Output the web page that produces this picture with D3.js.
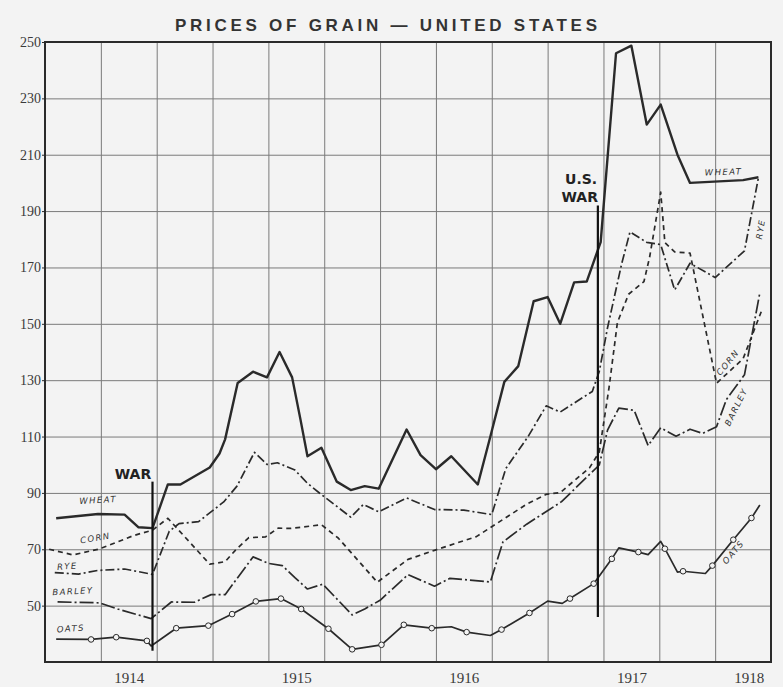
<!DOCTYPE html>
<html>
<head>
<meta charset="utf-8">
<script src="https://cdn.jsdelivr.net/npm/d3@7"></script>
<style>
  body { margin: 0; background: #f3f3f3; }
  svg { display: block; }
</style>
</head>
<body>
<svg id="chart"></svg>
<script>
// months counted from 1 Jan 1914, prices in cents per bushel
const wheat = [[0.8,81],[3.8,82.5],[5.7,82.3],[6.7,77.8],[7.7,77.5],[8.8,93],[9.7,93],[11.8,99],[12.5,104],[12.9,109],
  [13.8,129],[14.9,133],[15.9,131],[16.8,140],[17.7,131],[18.3,116],[18.8,103],[19.8,106],[20.9,94],[21.9,91],
  [22.9,92.4],[23.9,91.5],[25.9,112.5],[26.9,103.4],[28,98.4],[29.1,103],[31,93],[31.9,110],[32.9,129.4],[33.9,135],
  [35,158],[36,159.5],[36.9,150],[37.9,164.7],[38.8,165],[39.8,179],[40.9,246],[42,248.7],[43.1,220.7],[44.1,227.8],
  [45.3,210],[46.2,200],[50,201],[51.1,202]];

const corn = [[0.3,70],[2,68],[3.8,70],[5.1,72.4],[6.3,74.8],[7.7,76.8],[8.8,81],[11.8,64.7],[12.9,65.6],[13.7,70],
  [14.6,74.1],[15.8,74.4],[16.7,77.5],[17.6,77.4],[19.8,78.7],[21,74],[23.8,58.3],[26,66.4],[28,69.8],[30.9,74.5],
  [34.5,86],[35.9,89.5],[36.9,90.1],[39,98.9],[39.7,104.5],[40.4,127.4],[41,150.5],[41.8,160.5],[42.9,165],[43.3,173.5],
  [44.1,196.7],[44.4,178.8],[45.1,175.5],[46.2,175.1],[48.1,128.9],[50,137.6],[51.3,154.3]];

const rye = [[0.7,61.7],[2.4,61.2],[3.8,62.5],[5.7,63],[7.7,61.1],[8.9,76.4],[9.6,79.1],[11,79.8],[12.8,86.8],[13.75,92.4],
  [15,104.4],[15.9,100.1],[16.65,100.7],[17.9,98.1],[18.8,93.4],[19.7,89.8],[21.9,81.4],[22.8,85.9],[23.9,83.3],[25.9,88.2],
  [27.9,84.1],[30,83.9],[32,82.3],[33,98.6],[34.6,110],[35.9,120.9],[36.9,118.7],[39.2,126],[39.7,133.1],[40.3,148.8],
  [41.3,171.2],[41.9,182.6],[43.1,178.9],[44.1,178.1],[45.1,162],[46.2,171.5],[48,166.4],[50.1,175.9],[51.1,201.9]];

const barley = [[0.9,51.3],[3.9,51],[5.2,48.8],[7.6,45.4],[9.05,51.3],[10.7,51.2],[11.9,53.9],[12.9,53.9],[14.9,67.3],[16,65],
  [17,64.2],[17.9,59.9],[18.8,55.9],[19.9,57.6],[22,46.7],[22.9,48.8],[24,51.9],[26,61],[27.9,56.9],[29,59.7],
  [31.9,58.4],[32.8,72.6],[34.5,78.9],[37,86.9],[39.7,99.9],[40.3,112.4],[41.1,120.1],[42.2,119.3],[43.2,106.8],[44.1,113.1],
  [45.2,110.1],[46.2,112.6],[47.1,111.1],[48.1,113.5],[48.8,123.1],[50.1,131.9],[51.2,161]];

const oats = [[0.8,38.1],[3.3,38],[5.1,38.8],[7.3,37.5],[7.6,35.7],[9.4,42],[11.7,42.9],[13.4,47],[15.1,51.5],[16.9,52.5],
  [18.35,48.8],[20.3,41.8],[22,34.5],[24.1,36.1],[25.7,43.2],[27.7,42],[29.1,42.5],[30.2,40.6],[31.9,39.4],[32.7,41.5],
  [34.7,47.4],[36,51.6],[37.05,50.8],[37.6,52.5],[39.3,57.8],[40.6,66.6],[41.1,70.5],[42.5,69],[43.2,68.1],[44.1,72.8],
  [44.4,70.2],[45.3,61.9],[45.7,62.2],[47.3,61.4],[47.8,64.2],[49.3,73.4],[50.6,81.1],[51.2,85.7]];
// which oats points carry a ring
const oatsRings = [1,2,3,5,6,7,8,9,10,11,12,13,14,15,17,19,20,23,24,25,27,30,32,34,35,36];

const yTicks = [50,70,90,110,130,150,170,190,210,230,250];
const yearTicks = [6,18,30,42,50.4];
const yearLabels = ["1914","1915","1916","1917","1918"];

// outbreak of war (Aug 1914) and U.S. entry (Apr 1917)
const warMonths = [7.7, 39.6];
const warTop = [94, 192];
const warBottom = [34, 46];

const width = 783, height = 687;
const svg = d3.select("#chart").attr("width", width).attr("height", height);

const x = d3.scaleLinear().domain([0, 52]).range([45, 771]);
const y = d3.scaleLinear().domain([30, 250]).range([662, 42]);

const ink = "#2a2a2a";

// grid
svg.append("g")
  .attr("transform", `translate(0,${y(30)})`)
  .call(d3.axisBottom(x).tickValues(d3.range(4, 52, 4)).tickSize(-(y(30) - y(250))).tickFormat(""))
  .call(g => g.select(".domain").remove())
  .call(g => g.selectAll("line").attr("stroke", "#7a7a7a").attr("stroke-width", 1));

svg.append("g")
  .attr("transform", `translate(${x(0)},0)`)
  .call(d3.axisLeft(y).tickValues(d3.range(50, 250, 20)).tickSize(-(x(52) - x(0))).tickFormat(""))
  .call(g => g.select(".domain").remove())
  .call(g => g.selectAll("line").attr("stroke", "#7a7a7a").attr("stroke-width", 1));

// frame
svg.append("rect")
  .attr("x", x(0)).attr("y", y(250))
  .attr("width", x(52) - x(0)).attr("height", y(30) - y(250))
  .attr("fill", "none").attr("stroke", ink).attr("stroke-width", 2);

// y labels
svg.append("g")
  .attr("transform", `translate(${x(0)},0)`)
  .call(d3.axisLeft(y).tickValues(yTicks).tickSize(3).tickPadding(1))
  .call(g => g.select(".domain").remove())
  .call(g => g.selectAll("line").attr("stroke", ink))
  .call(g => g.selectAll("text")
    .attr("font-family", "Liberation Serif, serif")
    .attr("font-size", 14).attr("fill", "#3a3a3a"));

// year labels
svg.append("g")
  .attr("transform", `translate(0,${y(30)})`)
  .call(d3.axisBottom(x).tickValues(yearTicks).tickFormat((d, i) => yearLabels[i]).tickSize(0).tickPadding(10))
  .call(g => g.select(".domain").remove())
  .call(g => g.selectAll("text")
    .attr("font-family", "Liberation Serif, serif")
    .attr("font-size", 15).attr("fill", "#3a3a3a"));

// title
svg.append("text")
  .attr("x", 386).attr("y", 31)
  .attr("text-anchor", "middle")
  .attr("font-family", "Liberation Sans, Arial, sans-serif")
  .attr("font-weight", "bold").attr("font-size", 17)
  .attr("textLength", 422).attr("lengthAdjust", "spacing")
  .attr("fill", "#333")
  .text("PRICES OF GRAIN — UNITED STATES");

const line = d3.line().x(d => x(d[0])).y(d => y(d[1]));

const series = [
  {data: wheat, w: 2.4, dash: null},
  {data: corn, w: 1.7, dash: "5,4"},
  {data: rye, w: 1.7, dash: "9,3,2,3"},
  {data: barley, w: 1.7, dash: "14,3,2,3"},
  {data: oats, w: 1.7, dash: null}
];

svg.append("g").selectAll("path")
  .data(series)
  .join("path")
  .attr("d", d => line(d.data))
  .attr("fill", "none")
  .attr("stroke", ink)
  .attr("stroke-width", d => d.w)
  .attr("stroke-linejoin", "round")
  .attr("stroke-dasharray", d => d.dash);

svg.append("g").selectAll("circle")
  .data(oatsRings.map(i => oats[i]))
  .join("circle")
  .attr("cx", d => x(d[0])).attr("cy", d => y(d[1]))
  .attr("r", 2.8)
  .attr("fill", "#f3f3f3").attr("stroke", ink).attr("stroke-width", 1);

// war lines
svg.append("g").selectAll("line")
  .data(warMonths)
  .join("line")
  .attr("x1", d => x(d)).attr("x2", d => x(d))
  .attr("y1", (d, i) => y(warTop[i])).attr("y2", (d, i) => y(warBottom[i]))
  .attr("stroke", "#111").attr("stroke-width", 2.2);

const bold = g => g.attr("font-family", "DejaVu Sans, sans-serif")
  .attr("font-weight", "bold").attr("font-size", 14).attr("fill", "#222")
  .attr("text-anchor", "middle");

svg.append("text").call(bold).attr("x", x(6.3)).attr("y", y(96.6) + 5).text("WAR");
svg.append("text").call(bold).attr("x", x(38.4)).attr("y", y(201.5) + 5).text("U.S.");
svg.append("text").call(bold).attr("x", x(38.3)).attr("y", y(195) + 5).text("WAR");

// lettering along the lines
const seriesLabels = [
  {t: "WHEAT", m: 3.8, v: 87.5, r: -3},
  {t: "CORN", m: 3.6, v: 74, r: -10},
  {t: "RYE", m: 1.6, v: 64, r: -4},
  {t: "BARLEY", m: 2.0, v: 55.1, r: -3},
  {t: "OATS", m: 1.85, v: 41.9, r: -4},
  {t: "WHEAT", m: 48.6, v: 203.9, r: -2},
  {t: "RYE", m: 51.25, v: 183.6, r: -80},
  {t: "CORN", m: 48.9, v: 136.3, r: -50},
  {t: "BARLEY", m: 49.5, v: 120.5, r: -64},
  {t: "OATS", m: 49.3, v: 69, r: -49}
];

svg.append("g").selectAll("text")
  .data(seriesLabels)
  .join("text")
  .attr("transform", d => `translate(${x(d.m)},${y(d.v)}) rotate(${d.r})`)
  .attr("dy", "0.35em")
  .attr("text-anchor", "middle")
  .attr("font-family", "DejaVu Sans, sans-serif")
  .attr("font-style", "italic")
  .attr("font-size", 8.5)
  .attr("letter-spacing", 1.4)
  .attr("fill", "#333")
  .text(d => d.t);
</script>
</body>
</html>
